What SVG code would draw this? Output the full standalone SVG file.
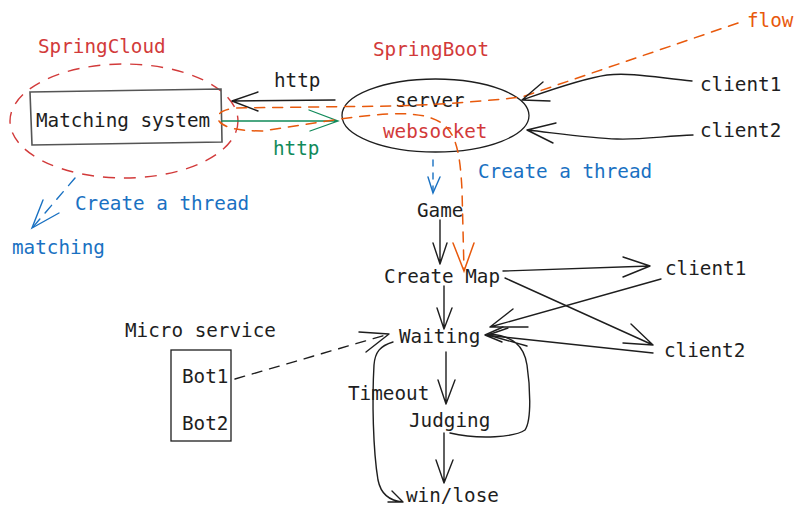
<svg xmlns="http://www.w3.org/2000/svg" width="804" height="518" viewBox="0 0 804 518">
<style>
text{font-family:"DejaVu Sans Mono","Liberation Mono",monospace;font-size:19.3px;fill:#1e1e1e}
.red{fill:#d23a3a}.blue{fill:#1971c2}.green{fill:#118a5a}.orange{fill:#e8590c}
.ln{fill:none;stroke:#1e1e1e;stroke-width:1.4;stroke-linecap:round;stroke-linejoin:round}
.bl{fill:none;stroke:#1971c2;stroke-width:1.4;stroke-linecap:round}
.gr{fill:none;stroke:#118a5a;stroke-width:1.3;stroke-linecap:round}
.or{fill:none;stroke:#e8590c;stroke-width:1.5;stroke-linecap:round;stroke-dasharray:10 8}
</style>
<rect width="804" height="518" fill="#ffffff"/>
<g id="springcloud">
<text class="red" x="38" y="53">SpringCloud</text>
<ellipse cx="124" cy="121" rx="114" ry="57" fill="none" stroke="#d23a3a" stroke-width="1.4" stroke-dasharray="12 9"/>
</g>
<g id="matching-system">
<polygon points="30,92 221,89 222,142 32,145" fill="none" stroke="#555" stroke-width="1.6"/>
<text x="36" y="127">Matching system</text>
</g>
<g id="springboot">
<text class="red" x="373" y="56">SpringBoot</text>
</g>
<g id="server">
<ellipse cx="435.5" cy="115.5" rx="93.5" ry="36.5" fill="none" stroke="#1e1e1e" stroke-width="1.3"/>
<text x="395" y="107">server</text>
<text class="red" x="383" y="138">websocket</text>
</g>
<g id="client1-top"><text x="700" y="91">client1</text></g>
<g id="client2-top"><text x="700" y="137">client2</text></g>
<g id="flow-label"><text class="orange" x="747" y="27">flow</text></g>
<g id="game"><text x="417" y="217">Game</text></g>
<g id="create-map"><text x="384" y="283">Create Map</text></g>
<g id="client1"><text x="665" y="275">client1</text></g>
<g id="client2"><text x="664" y="357">client2</text></g>
<g id="waiting"><text x="399" y="343">Waiting</text></g>
<g id="judging"><text x="409" y="427">Judging</text></g>
<g id="win-lose"><text x="406" y="502">win/lose</text></g>
<g id="micro-service">
<text x="125" y="337">Micro service</text>
<rect x="171" y="350" width="60" height="91" fill="none" stroke="#1e1e1e" stroke-width="1.3"/>
<text x="182" y="383">Bot1</text>
<text x="182" y="430">Bot2</text>
</g>
<g id="matching"><text class="blue" x="12" y="254">matching</text></g>
<g id="labels">
<text x="274" y="87">http</text>
<text class="green" x="273" y="155">http</text>
<text class="blue" x="478" y="178">Create a thread</text>
<text class="blue" x="75" y="210">Create a thread</text>
<text x="348" y="400">Timeout</text>
</g>
<g id="connectors">
<!-- http black -->
<path class="ln" d="M335,100 L232,101 M258,92 L232,101 L258,111"/>
<!-- http green -->
<path class="gr" d="M222,121 L338,121 M309,110 L338,121 L310,131"/>
<!-- flow orange -->
<path class="or" d="M738,23 L522,97 Q460,104 393,106 L235,108 Q214,111 219,121 Q226,131 262,131 L340,119 C385,113 420,110 440,122 C456,132 460,152 462,190 L464,270"/>
<path fill="none" stroke="#e8590c" stroke-width="1.5" stroke-linecap="round" d="M453,243 L464,271 L474,243"/>
<!-- client1 top -> server -->
<path class="ln" d="M692,81 C660,78 630,72 607,75 C580,79 545,92 522,100 M543,82 L522,100 L550,101"/>
<!-- client2 top -> server -->
<path class="ln" d="M693,135 C665,136 640,140 617,139 C590,138 555,133 527,130 M556,123 L527,130 L553,143"/>
<!-- server -> game blue dashed -->
<path class="bl" stroke-dasharray="6 7" d="M433,160 L433,192"/>
<path class="bl" d="M428,177 L433,193 L440,177"/>
<!-- springcloud -> matching blue dashed -->
<path class="bl" stroke-dasharray="10 8" d="M75,178 L33,227"/>
<path class="bl" d="M43,200 L32,228 L59,213"/>
<!-- game -> create map -->
<path class="ln" d="M440,220 L440,264 M433,243 L440,264 L447,243"/>
<!-- create map -> waiting -->
<path class="ln" d="M444,286 L444,329 M437,308 L444,329 L452,308"/>
<!-- create map -> client1 -->
<path class="ln" d="M503,271 L650,266 M623,257 L650,266 L623,277"/>
<!-- create map -> client2 -->
<path class="ln" d="M505,278 L653,345 M631,324 L653,345 L623,343"/>
<!-- client1 -> waiting -->
<path class="ln" d="M661,279 L490,327 M513,309 L490,327 L528,327"/>
<!-- client2 -> waiting -->
<path class="ln" d="M653,353 L485,335 M503,327 L485,335 L502,342"/>
<!-- judging -> waiting loop -->
<path class="ln" d="M450,433 C480,440 515,437 525,430 C532,420 530,385 527,365 C524,345 512,336 490,334 M508,328 L488,335 L527,346"/>
<!-- waiting -> judging -->
<path class="ln" d="M446,352 L446,404 M438,380 L446,404 L455,380"/>
<!-- judging -> win/lose -->
<path class="ln" d="M444,433 L444,483 M436,460 L444,483 L453,460"/>
<!-- timeout loop -->
<path class="ln" d="M393,342 C380,346 375,352 374,365 C372,400 373,450 378,480 C381,495 390,501 403,502 M392,491 L403,502 L388,502"/>
<!-- bot1 -> waiting dashed -->
<path class="ln" stroke-dasharray="10 8" d="M235,379 L389,334"/>
<path class="ln" d="M359,332 L389,334 L366,352"/>
</g>
</svg>
